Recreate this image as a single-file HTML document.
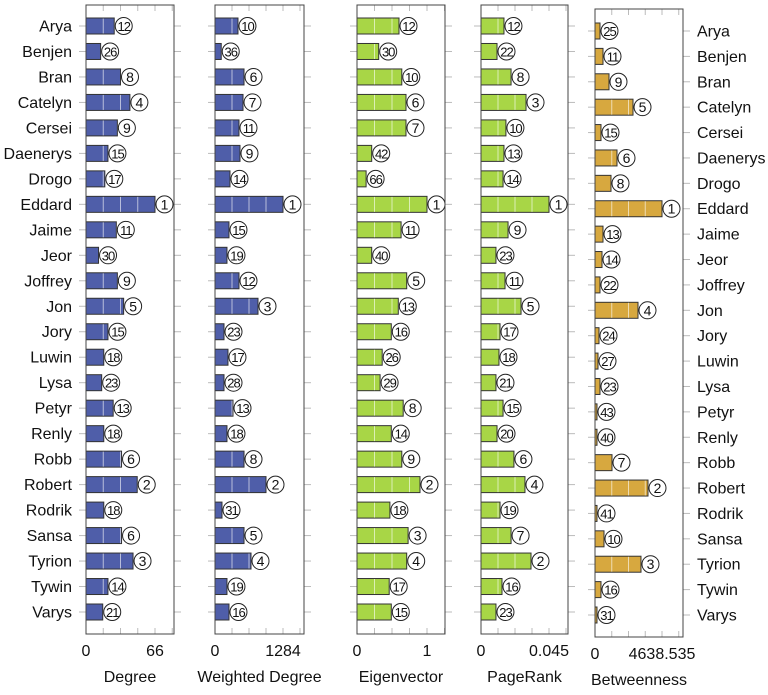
<!DOCTYPE html>
<html><head><meta charset="utf-8"><style>
body{margin:0;background:#fff;}
svg{display:block;font-family:"Liberation Sans","DejaVu Sans",sans-serif;}
</style></head><body>
<svg id="c" width="768" height="695"></svg>
<script>
const names=["Arya","Benjen","Bran","Catelyn","Cersei","Daenerys","Drogo","Eddard","Jaime","Jeor","Joffrey","Jon","Jory","Luwin","Lysa","Petyr","Renly","Robb","Robert","Rodrik","Sansa","Tyrion","Tywin","Varys"];
const degree=[27,14,33,42,30,21,18,66,29,12,30,36,21,17,15,26,17,34,49,17,34,45,21,16];
const degreeRank=[12,26,8,4,9,15,17,1,11,30,9,5,15,18,23,13,18,6,2,18,6,3,14,21];
const wdegree=[434,118,548,529,453,472,283,1284,264,226,453,812,170,245,170,340,226,548,963,132,548,680,226,264];
const wdegreeRank=[10,36,6,7,11,9,14,1,15,19,12,3,23,17,28,13,18,8,2,31,5,4,19,16];
const eigen=[0.6,0.31,0.64,0.7,0.7,0.21,0.13,1,0.63,0.21,0.71,0.59,0.49,0.36,0.33,0.66,0.49,0.64,0.9,0.47,0.73,0.71,0.46,0.49];
const eigenRank=[12,30,10,6,7,42,66,1,11,40,5,13,16,26,29,8,14,9,2,18,3,4,17,15];
const pagerank=[0.0152,0.0106,0.0199,0.0298,0.0165,0.0152,0.0146,0.045,0.0179,0.0099,0.0159,0.0265,0.0126,0.0119,0.0099,0.0146,0.0106,0.0218,0.0291,0.0126,0.0199,0.0331,0.0139,0.0099];
const pagerankRank=[12,22,8,3,10,13,14,1,9,23,11,5,17,18,21,15,20,6,4,19,7,2,16,23];
const betw=[346,554,969,2631,415,1523,1108,4638.535,554,485,346,2977,277,208,346,138,138,1177,3669,138,623,3184,415,138];
const betwRank=[25,11,9,5,15,6,8,1,13,14,22,4,24,27,23,43,40,7,2,41,10,3,16,31];

const panels=[
 {key:"degree",title:"Degree",vals:degree,ranks:degreeRank,max:66,tick:"66",x0:86,x1:174,xm:155,top:5,bot:634,y0:26,y1:612,fill:"#4f5ea9"},
 {key:"weighted-degree",title:"Weighted Degree",vals:wdegree,ranks:wdegreeRank,max:1284,tick:"1284",x0:215,x1:304,xm:283,top:5,bot:634,y0:26,y1:612,fill:"#4f5ea9"},
 {key:"eigenvector",title:"Eigenvector",vals:eigen,ranks:eigenRank,max:1,tick:"1",x0:357,x1:445,xm:427,top:5,bot:634,y0:26,y1:612,fill:"#a8d646"},
 {key:"pagerank",title:"PageRank",vals:pagerank,ranks:pagerankRank,max:0.045,tick:"0.045",x0:481,x1:568,xm:549,top:5,bot:634,y0:26,y1:612,fill:"#a8d646"},
 {key:"betweenness",title:"Betweenness",vals:betw,ranks:betwRank,max:4638.535,tick:"4638.535",x0:595,x1:683,xm:662,top:9,bot:637,y0:31,y1:615,fill:"#d7a83f"}
];
const svg=document.getElementById('c');
const NS="http://www.w3.org/2000/svg";
function mk(tag,attrs,parent){const e=document.createElementNS(NS,tag);for(const k in attrs)e.setAttribute(k,attrs[k]);(parent||svg).appendChild(e);return e;}
panels.forEach((p,pi)=>{
 const g=mk('g',{});
 
 
 const xs=v=>p.x0+v/p.max*(p.xm-p.x0);
 const ys=i=>p.y0+i*(p.y1-p.y0)/(names.length-1);
 names.forEach((n,i)=>{
  mk('line',{x1:p.x0-7,x2:p.x0,y1:ys(i),y2:ys(i),stroke:"#bbb","stroke-width":1},g);
  mk('line',{x1:p.x1,x2:p.x1+7,y1:ys(i),y2:ys(i),stroke:"#bbb","stroke-width":1},g);
 });
 for(let k=0;k<=5;k++){const x=xs(p.max*k/4);if(x>p.x1)continue;
  mk('line',{x1:x,x2:x,y1:p.top,y2:p.top+6,stroke:"#bbb"},g);
  mk('line',{x1:x,x2:x,y1:p.bot-6,y2:p.bot,stroke:"#bbb"},g);}
 p.vals.forEach((v,i)=>{
  const y=ys(i),w=xs(v)-p.x0;
  const b=mk('rect',{x:p.x0,y:y-8,width:w,height:16,fill:p.fill,stroke:"#333","stroke-width":1},g);
  
  
  for(let k=1;k<4;k++){const gx=xs(p.max*k/4);if(gx<xs(v)-1)mk('line',{x1:gx,x2:gx,y1:y-7.5,y2:y+7.5,stroke:"#fff","stroke-opacity":0.6,"stroke-width":1},g);}
  const cx=xs(v)+9.5;
  const c=mk('circle',{cx:cx,cy:y,r:8.5,fill:"#fff",stroke:"#222","stroke-width":1},g);
  
  
  const two=String(p.ranks[i]).length>1;
  const t=mk('text',{x:cx,y:y+5,"text-anchor":"middle","font-size":two?13:14,fill:"#111","letter-spacing":two?"-1":"0"},g);
  t.textContent=p.ranks[i];
 });
 const fr=mk('rect',{x:p.x0,y:p.top,width:p.x1-p.x0,height:p.bot-p.top,fill:"none",stroke:"#444","stroke-width":1},g);
 
 
 const t0=mk('text',{x:p.x0,y:p.bot+22,"text-anchor":"middle","font-size":16,fill:"#111"},g);t0.textContent="0";
 
 const t1=mk('text',{x:p.xm,y:p.bot+22,"text-anchor":"middle","font-size":16,fill:"#111"},g);t1.textContent=p.tick;
 
 const tt=mk('text',{x:(p.x0+p.x1)/2,y:p.bot+48,"text-anchor":"middle","font-size":16,fill:"#111"},g);tt.textContent=p.title;
 
 if(pi===0){names.forEach((n,i)=>{const l=mk('text',{x:72,y:ys(i)+5.5,"text-anchor":"end","font-size":16,fill:"#111"},g);l.textContent=n;
  });}
 if(pi===4){names.forEach((n,i)=>{const l=mk('text',{x:697,y:ys(i)+5.5,"text-anchor":"start","font-size":16,fill:"#111"},g);l.textContent=n;
  });}
});
</script>
</body></html>
